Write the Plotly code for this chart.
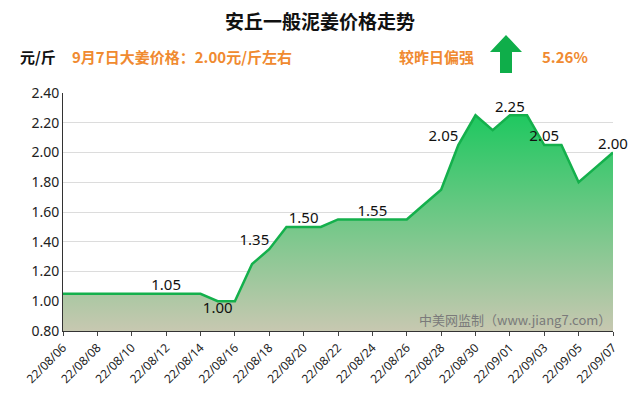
import plotly.graph_objects as go

dates = ['22/08/%02d' % d for d in range(6, 32)] + ['22/09/%02d' % d for d in range(1, 8)]
prices = [1.05, 1.05, 1.05, 1.05, 1.05, 1.05, 1.05, 1.05, 1.05,
          1.00, 1.00, 1.25, 1.35, 1.50, 1.50, 1.50, 1.55, 1.55, 1.55, 1.55, 1.55,
          1.65, 1.75, 2.05, 2.25, 2.15, 2.25, 2.25, 2.05, 2.05, 1.80, 1.90, 2.00]
label_idx = [6, 9, 12, 14, 18, 23, 26, 28, 32]
label_pos = ['top center', 'bottom center', 'top left', 'top center', 'top center',
             'top left', 'top center', 'top center', 'top center']
tick_dates = dates[::2]


def px_x(p):
    return (p - 63) / 550


def px_y(p):
    return (331 - p) / 238


fig = go.Figure()
fig.add_trace(go.Scatter(
    x=dates, y=prices, mode='lines', fill='tozeroy',
    line=dict(color='#14b04c', width=2.5),
    fillgradient=dict(type='vertical',
                      colorscale=[[0, '#c6c8b0'], [0.36, '#c6c8b0'], [1, '#1fc860']]),
    hoverinfo='x+y', showlegend=False))
fig.add_trace(go.Scatter(
    x=[dates[i] for i in label_idx], y=[prices[i] for i in label_idx],
    mode='text', text=['%.2f' % prices[i] for i in label_idx],
    textposition=label_pos, textfont=dict(size=15, color='#111', family='Noto Sans'),
    hoverinfo='skip', showlegend=False, cliponaxis=False))

font = 'Noto Sans CJK SC'
orange = '#f08a30'
# the page body adds an 8px offset, so margins are reduced by 8 on the left/top
fig.update_layout(
    width=640, height=410, margin=dict(l=55, r=35, t=85, b=87),
    plot_bgcolor='white', paper_bgcolor='white', font=dict(family=font),
    annotations=[
        dict(text='<b>安丘一般泥姜价格走势</b>', x=px_x(320), y=px_y(20), xref='paper', yref='paper',
             xanchor='center', yanchor='middle', showarrow=False, font=dict(size=19, color='#111')),
        dict(text='<b>元/斤</b>', x=px_x(18), y=px_y(56), xref='paper', yref='paper', xanchor='left',
             yanchor='middle', showarrow=False, font=dict(size=15, color='#111')),
        dict(text='<b>9月7日大姜价格：2.00元/斤左右</b>', x=px_x(70), y=px_y(56), xref='paper', yref='paper',
             xanchor='left', yanchor='middle', showarrow=False, font=dict(size=15, color=orange)),
        dict(text='<b>较昨日偏强</b>', x=px_x(397), y=px_y(56), xref='paper', yref='paper',
             xanchor='left', yanchor='middle', showarrow=False, font=dict(size=15, color=orange)),
        dict(text='<b>5.26%</b>', x=px_x(540), y=px_y(56), xref='paper', yref='paper',
             xanchor='left', yanchor='middle', showarrow=False, font=dict(size=15, color=orange)),
        dict(text='中美网监制（www.jiang7.com）', x=1, y=0.0, xref='paper', yref='paper',
             xanchor='right', yanchor='bottom', showarrow=False, font=dict(size=13, color='#7a7a7a')),
    ],
    shapes=[dict(type='path', xref='paper', yref='paper', fillcolor='#0fae4a', line=dict(width=0),
                 path='M %f,%f L %f,%f L %f,%f L %f,%f L %f,%f L %f,%f L %f,%f Z' % (
                     px_x(506), px_y(35), px_x(522), px_y(52), px_x(512), px_y(52), px_x(512), px_y(73),
                     px_x(500), px_y(73), px_x(500), px_y(52), px_x(490), px_y(52)))],
)
fig.update_xaxes(type='category', tickvals=tick_dates, tickangle=-45, showgrid=False, automargin=False,
                 showline=True, linecolor='#333', linewidth=1, ticks='outside', ticklen=4,
                 tickfont=dict(size=12, color='#222', family='Noto Sans'), range=[0, len(dates) - 1])
fig.update_yaxes(range=[0.8, 2.4], dtick=0.2, tickformat='.2f', gridcolor='#dcdcdc', automargin=False,
                 showline=True, linecolor='#333', linewidth=1,
                 tickfont=dict(size=14, color='#222', family='Noto Sans'))

fig.write_html('out.html')
